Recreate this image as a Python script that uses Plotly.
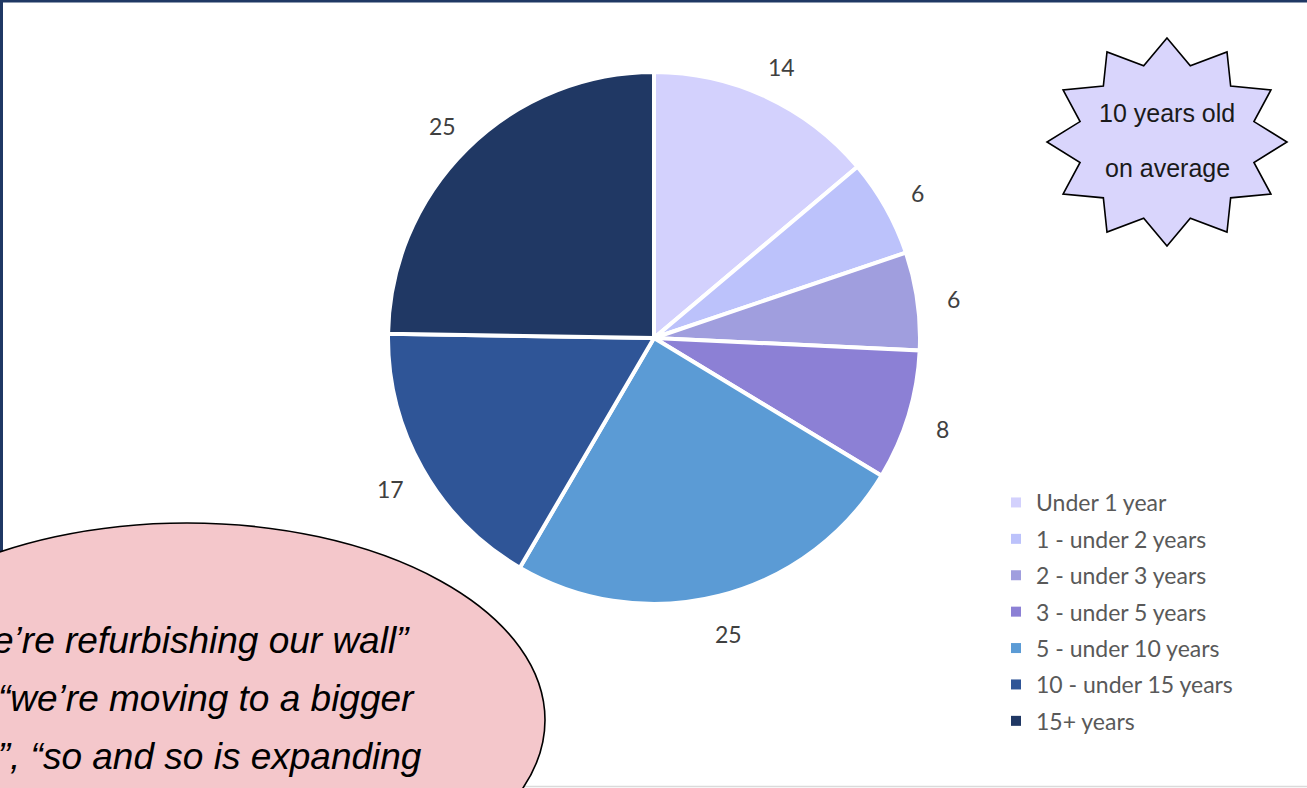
import math
import plotly.graph_objects as go

# Age bands and share of respondents (%)
categories = [
    "Under 1 year",
    "1 - under 2 years",
    "2 - under 3 years",
    "3 - under 5 years",
    "5 - under 10 years",
    "10 - under 15 years",
    "15+ years",
]
values = [14, 6, 6, 8, 25, 17, 25]
colors = ["#D3D1FD", "#BCC2FB", "#A09EDE", "#8C80D5", "#5B9BD5", "#2F5597", "#203864"]

badge_lines = ["10 years old", "on average"]
quote_lines = [
    "\u201cwe\u2019re refurbishing our wall\u201d",
    "\u201cwe\u2019re moving to a bigger",
    "space\u201d, \u201cso and so is expanding",
]

W, H = 1307, 788
CX, CY, R = 654, 338, 266        # pie centre and radius in pixels
LABEL_R = R + 36                 # radius of the value labels
LABEL_DY = 3                     # small downward nudge for value labels


def px(x):
    return x / W


def py(y):
    return 1 - y / H


fig = go.Figure()

fig.add_trace(go.Pie(
    labels=categories,
    values=values,
    sort=False,
    direction="clockwise",
    rotation=0,
    marker=dict(colors=colors, line=dict(color="white", width=4)),
    textinfo="none",
    hoverinfo="label+value",
    showlegend=False,
    domain=dict(x=[px(CX - R), px(CX + R)], y=[py(CY + R), py(CY - R)]),
))

# Legend entries (one per age band, spaced like the slide legend)
for cat, col in zip(categories, colors):
    fig.add_trace(go.Scatter(
        x=[None], y=[None], mode="markers", name=cat, legendgroup=cat,
        marker=dict(symbol="square", size=10, color=col),
        hoverinfo="skip",
    ))

annotations = []

# Value labels placed just outside each slice, at its mid angle
total = sum(values)
cum = 0
for v in values:
    theta = (cum + v / 2) / total * 2 * math.pi
    cum += v
    lx = CX + LABEL_R * math.sin(theta)
    ly = CY - LABEL_R * math.cos(theta) + LABEL_DY
    annotations.append(dict(
        x=px(lx), y=py(ly), xref="paper", yref="paper",
        text=str(v), showarrow=False, xanchor="center", yanchor="middle",
        font=dict(family="Lato, Open Sans, sans-serif", size=23, color="#404040"),
    ))

# Starburst badge text
for txt, yy in zip(badge_lines, [113, 168]):
    annotations.append(dict(
        x=px(1167), y=py(yy), xref="paper", yref="paper", text=txt,
        showarrow=False, xanchor="center", yanchor="middle",
        font=dict(family="Liberation Sans, Arial, sans-serif", size=25, color="#1A1A1A"),
    ))

# Quote bubble text (runs off the left edge of the slide)
for txt, xr, yy in zip(quote_lines, [412, 417, 424], [640, 698, 756]):
    annotations.append(dict(
        x=px(xr), y=py(yy), xref="paper", yref="paper", text=txt,
        showarrow=False, xanchor="right", yanchor="middle",
        font=dict(family="Liberation Sans, Arial, sans-serif", size=37,
                  color="#000000", style="italic"),
    ))

# 12-point starburst outline
SX, SY = 1167, 142
OUT_RX, OUT_RY, IN_RX, IN_RY = 120, 104, 90, 79
pts = []
for k in range(24):
    a = k * math.pi / 12
    rx, ry = (OUT_RX, OUT_RY) if k % 2 == 0 else (IN_RX, IN_RY)
    pts.append((px(SX + rx * math.sin(a)), py(SY - ry * math.cos(a))))
star_path = "M " + " L ".join(f"{x:.5f},{y:.5f}" for x, y in pts) + " Z"

shapes = [
    # slide frame
    dict(type="line", xref="paper", yref="paper", x0=0, x1=1, y0=py(1), y1=py(1),
         line=dict(color="#1F3864", width=3)),
    dict(type="line", xref="paper", yref="paper", x0=px(1.5), x1=px(1.5), y0=0, y1=1,
         line=dict(color="#1F3864", width=3)),
    dict(type="line", xref="paper", yref="paper", x0=0, x1=1, y0=py(786.5), y1=py(786.5),
         line=dict(color="#DADADA", width=1.5)),
    # starburst badge
    dict(type="path", xref="paper", yref="paper", path=star_path,
         fillcolor="#D9D5FC", line=dict(color="#000000", width=1.6)),
    # quote bubble
    dict(type="circle", xref="paper", yref="paper",
         x0=px(187 - 358), x1=px(187 + 358), y0=py(720 + 197), y1=py(720 - 197),
         fillcolor="#F4C7CB", line=dict(color="#000000", width=1.6)),
]

fig.update_layout(
    width=W, height=H,
    margin=dict(l=0, r=0, t=0, b=0),
    paper_bgcolor="white", plot_bgcolor="white",
    xaxis=dict(visible=False), yaxis=dict(visible=False),
    shapes=shapes,
    annotations=annotations,
    legend=dict(
        x=px(996), y=py(481), xanchor="left", yanchor="top",
        traceorder="grouped", tracegroupgap=3.5,
        font=dict(family="Lato, Open Sans, sans-serif", size=23, color="#595959"),
        bgcolor="rgba(0,0,0,0)",
    ),
)

fig.write_html("out.html")
